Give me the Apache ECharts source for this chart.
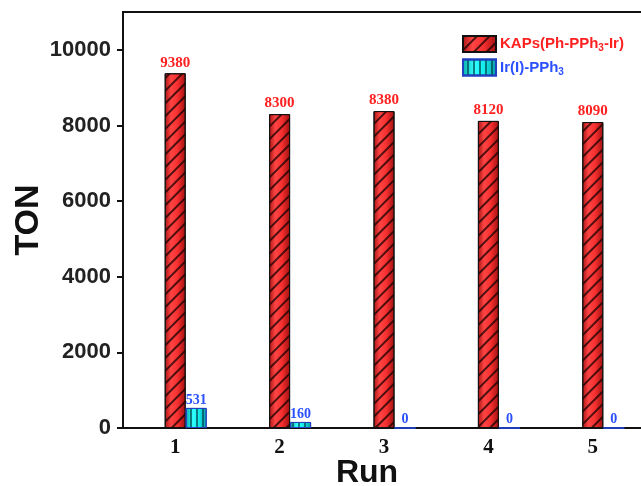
<!DOCTYPE html>
<html><head><meta charset="utf-8">
<script src="https://cdn.jsdelivr.net/npm/echarts@6/dist/echarts.min.js"></script>
<style>html,body{margin:0;padding:0;background:#fff}#c{width:641px;height:486px}</style>
</head><body><div id="c"></div>
<script>
const categories = ['1','2','3','4','5'];
const kapsValues = [9380, 8300, 8380, 8120, 8090];
const irValues = [531, 160, 0, 0, 0];
const yTicks = [0, 2000, 4000, 6000, 8000, 10000];
const seriesNames = ['KAPs(Ph-PPh3-Ir)', 'Ir(I)-PPh3'];

const chart = echarts.init(document.getElementById('c'), null, {renderer:'canvas'});
const redGrad = new echarts.graphic.LinearGradient(0,0,1,0,[
  {offset:0,color:'#a81414'},{offset:0.3,color:'#ff4444'},{offset:0.6,color:'#f83030'},{offset:1,color:'#a01010'}]);
const cyanGrad = new echarts.graphic.LinearGradient(0,0,1,0,[
  {offset:0,color:'#0aa8a8'},{offset:0.35,color:'#30ffff'},{offset:0.65,color:'#10eaea'},{offset:1,color:'#0898a0'}]);

chart.setOption({
  animation:false,
  backgroundColor:'#fff',
  grid:{left:123, top:12, bottom:58, right:-4, outerBoundsMode:'none', containLabel:false,
        show:true, borderColor:'#111', borderWidth:2, backgroundColor:'transparent'},
  legend:{
    orient:'vertical', left:457, top:30, itemWidth:33, itemHeight:16, itemGap:5, icon:'rect',
    data:[
      {name:seriesNames[0], textStyle:{color:'#ff2020'}},
      {name:seriesNames[1], textStyle:{color:'#2a50ff'}}
    ],
    formatter: function(n){
      if(n===seriesNames[0]) return '{a|KAPs(Ph-PPh}{s|3}{a|-Ir)}';
      return '{b|Ir(I)-PPh}{t|3}';
    },
    textStyle:{
      fontFamily:'Liberation Sans', fontWeight:'bold', fontSize:15, padding:[0,0,0,-1],
      rich:{
        a:{color:'#ff2020', fontFamily:'Liberation Sans', fontWeight:'bold', fontSize:15},
        s:{color:'#ff2020', fontFamily:'Liberation Sans', fontWeight:'bold', fontSize:10, padding:[9,0,0,0]},
        b:{color:'#2a50ff', fontFamily:'Liberation Sans', fontWeight:'bold', fontSize:15},
        t:{color:'#2a50ff', fontFamily:'Liberation Sans', fontWeight:'bold', fontSize:10, padding:[9,0,0,0]}
      }
    }
  },
  xAxis:{
    type:'category', data:categories, boundaryGap:true,
    axisLine:{lineStyle:{color:'#111', width:2}},
    axisTick:{show:false},
    axisLabel:{color:'#111', fontFamily:'Liberation Serif', fontWeight:'bold', fontSize:21, margin:9},
    name:'Run', nameLocation:'middle', nameGap:29, nameMoveOverlap:false,
    nameTextStyle:{fontFamily:'Liberation Sans', fontWeight:'bold', fontSize:32, color:'#111', verticalAlign:'top', padding:[0,34,0,0]}
  },
  yAxis:{
    type:'value', min:0, max:11000,
    splitLine:{show:false},
    axisLine:{show:true, lineStyle:{color:'#111', width:2}},
    axisTick:{show:true, inside:false, length:6, lineStyle:{width:2,color:'#111'}, customValues:yTicks},
    axisLabel:{color:'#222', fontFamily:'Liberation Sans', fontWeight:'bold', fontSize:22, margin:12,
               customValues:yTicks, formatter:v=>String(v)},
    name:'TON', nameLocation:'middle', nameGap:77, nameMoveOverlap:false,
    nameTextStyle:{fontFamily:'Liberation Sans', fontWeight:'bold', fontSize:34, color:'#111'}
  },
  series:[
    {type:'bar', name:'_pad', data:categories.map(()=>null), barWidth:21, barGap:'0%', legendHoverLink:false},
    {type:'bar', name:seriesNames[0], data:kapsValues, barWidth:21, barGap:'0%',
     itemStyle:{color:redGrad, borderColor:'#111', borderWidth:1,
       decal:{symbol:'rect', symbolSize:1, dashArrayX:[1,0], dashArrayY:[1.2,6.5], rotation:-Math.PI/4, color:'rgba(20,0,0,0.75)'}},
     label:{show:true, position:'top', distance:3, color:'#ff2020', fontFamily:'Liberation Serif', fontWeight:'bold', fontSize:15}},
    {type:'bar', name:seriesNames[1], barWidth:21, barGap:'0%',
     data:irValues,
     itemStyle:{color:cyanGrad, borderColor:'#2040c0', borderWidth:1,
       decal:{symbol:'rect', symbolSize:1, dashArrayX:[1,0], dashArrayY:[1.2,4], rotation:Math.PI/2, color:'rgba(0,70,80,0.7)'}},
     label:{show:true, position:'top', distance:1, color:'#2a50ff', fontFamily:'Liberation Serif', fontWeight:'bold', fontSize:14}}
  ]
});
</script></body></html>
